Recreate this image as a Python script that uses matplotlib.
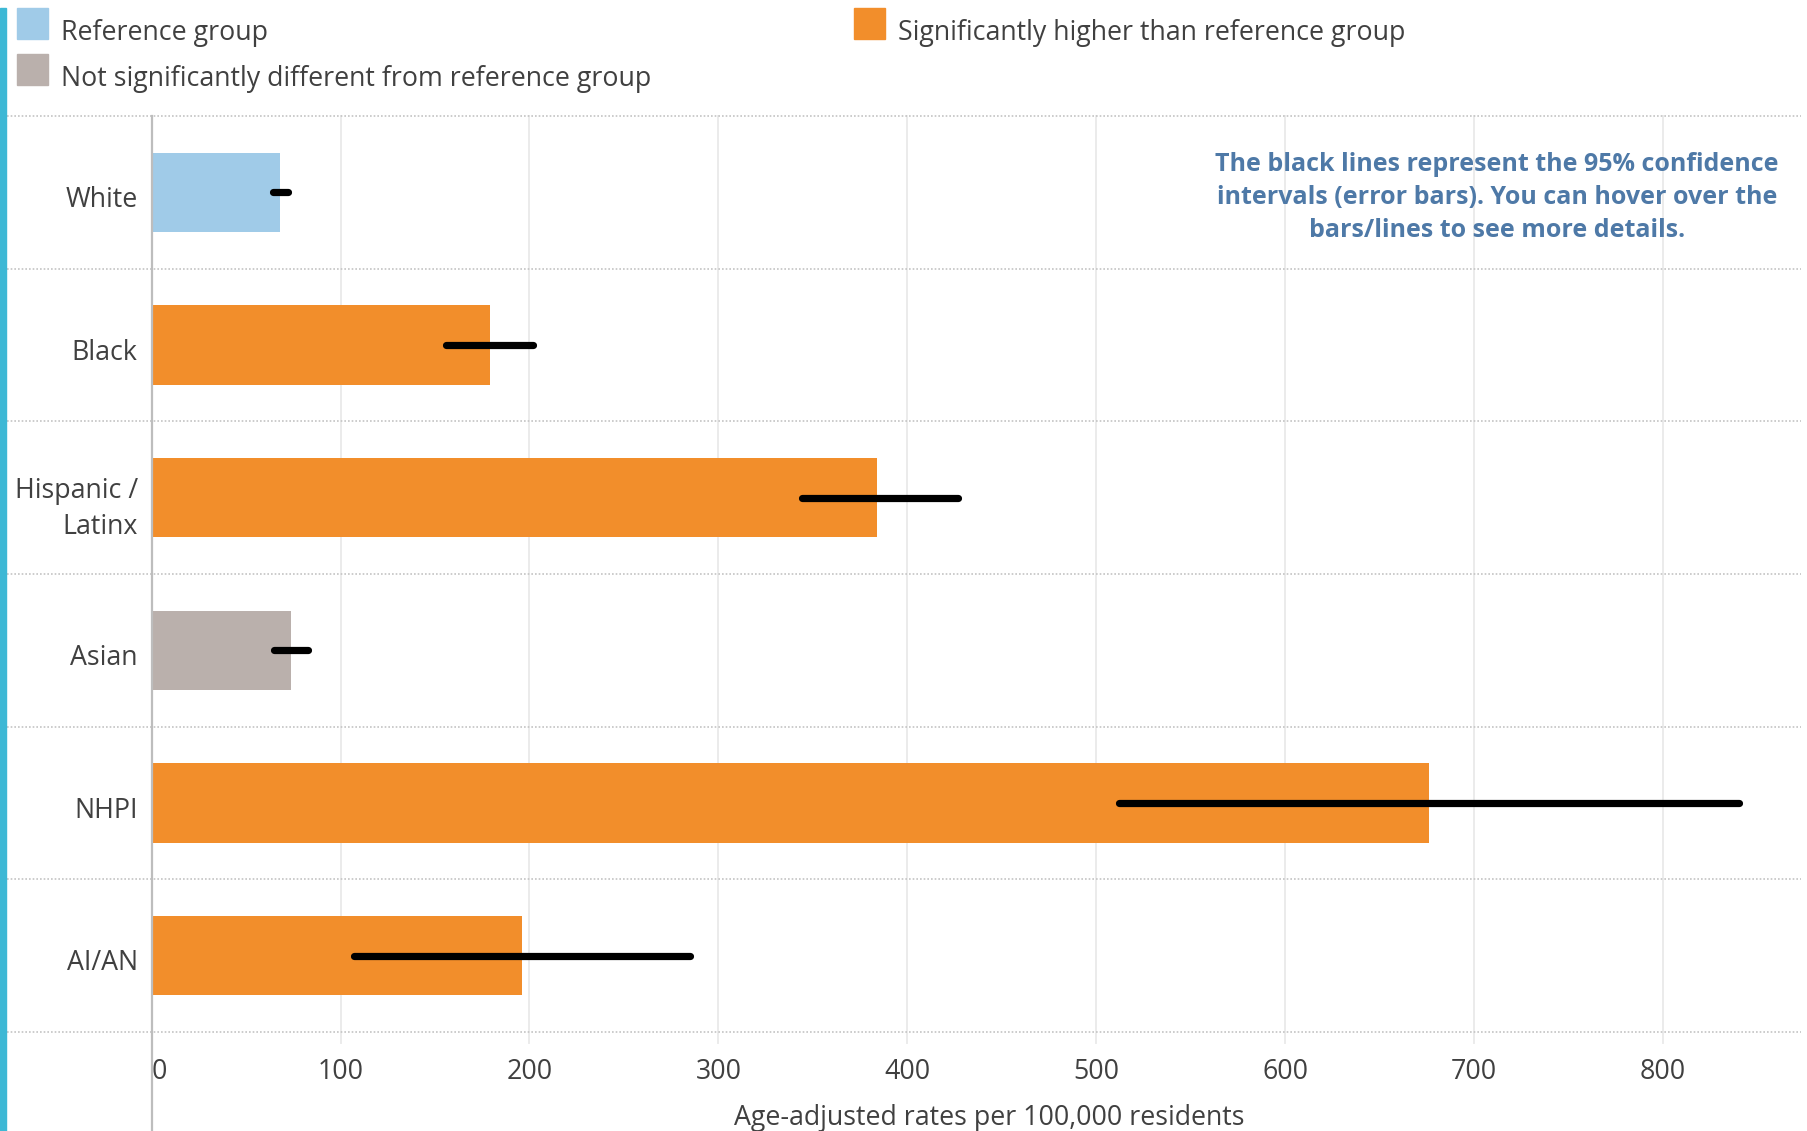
import matplotlib.pyplot as plt
import matplotlib.transforms as mtransforms
from matplotlib.patches import Rectangle

plt.rcParams['font.family'] = ['Open Sans', 'DejaVu Sans']

# Data
groups = ["White", "Black", "Hispanic /\nLatinx", "Asian", "NHPI", "AI/AN"]
rates = [68, 179, 384, 74, 676, 196]
ci_low = [64, 156, 344, 65, 512, 107]
ci_high = [72, 202, 427, 83, 840, 285]
status = ["ref", "higher", "higher", "ns", "higher", "higher"]

colors = {"ref": "#A0CBE8", "higher": "#F28E2B", "ns": "#BAB0AC"}
legend_labels = {"ref": "Reference group",
                 "higher": "Significantly higher than reference group",
                 "ns": "Not significantly different from reference group"}
xticks = [0, 100, 200, 300, 400, 500, 600, 700, 800]
text_col = "#404040"
fs = 19.3

W, H = 1808, 1131
fig = plt.figure(figsize=(W / 100, H / 100), dpi=100)


def fx(px):
    return px / W


def fy(py):
    return 1 - py / H


# axes area in pixels
left, right, top, bottom = 151.6, 1801, 116, 1032
ax = fig.add_axes([fx(left), fy(bottom), fx(right - left), (bottom - top) / H])

y = list(range(len(groups)))
ax.barh(y, rates, height=0.52, color=[colors[s] for s in status], zorder=2)
for i in y:
    ax.plot([ci_low[i], ci_high[i]], [i, i], color="black", lw=5.2,
            solid_capstyle="round", zorder=3)

ax.set_xlim(0, 873)
ax.set_ylim(len(groups) - 0.5, -0.5)

# dotted row separators (extend into label area)
ext = (left - 7) / (right - left)
for k in range(len(groups) + 1):
    ax.axhline(k - 0.5, xmin=-ext, xmax=1, color="#C4C4C4", lw=1.2,
               ls=(0, (1, 1.2)), clip_on=False, zorder=1)

# vertical gridlines
gext = (1043 - bottom) / (bottom - top)
for t in xticks[1:]:
    ax.axvline(t, ymin=-gext, ymax=1, color="#EBEBEB", lw=1.4, clip_on=False, zorder=0)
aext = (H - bottom) / (bottom - top)
ax.axvline(0, ymin=-aext, ymax=1, color="#BDBDBD", lw=1.6, clip_on=False, zorder=4)

for sp in ax.spines.values():
    sp.set_visible(False)

ax.set_yticks(y)
ax.set_yticklabels(groups, fontsize=fs, color=text_col, multialignment="right",
                   linespacing=1.35)
ax.tick_params(axis="y", length=0, pad=10)
shift = mtransforms.ScaledTranslation(0, -4 / 100, fig.dpi_scale_trans)
for lab in ax.get_yticklabels():
    lab.set_transform(lab.get_transform() + shift)

ax.set_xticks(xticks)
ax.set_xticklabels([str(t) for t in xticks], fontsize=fs, color=text_col)
ax.tick_params(axis="x", length=0, pad=19)
ax.get_xticklabels()[0].set_horizontalalignment("left")
ax.set_xlabel("Age-adjusted rates per 100,000 residents", fontsize=fs,
              color=text_col, labelpad=13)
ax.xaxis.label.set_x(0.508)

# note
fig.text(fx(1497), fy(197.5),
         "The black lines represent the 95% confidence\n"
         "intervals (error bars). You can hover over the\n"
         "bars/lines to see more details.",
         ha="center", va="center", fontsize=18, fontweight="bold",
         color="#4E79A7", linespacing=1.4)

# legend
legend_pos = {"ref": (17, 8), "ns": (17, 54), "higher": (854, 8)}
for key, (lx, ly) in legend_pos.items():
    fig.patches.append(Rectangle((fx(lx), fy(ly + 31)), fx(31), 31 / H,
                                 transform=fig.transFigure, color=colors[key]))
    fig.text(fx(lx + 44), fy(ly + 25), legend_labels[key], ha="left", va="center",
             fontsize=fs, color=text_col)

# left accent bar
fig.patches.append(Rectangle((0, 0), fx(6), fy(8), transform=fig.transFigure,
                             color="#3DB8D5"))

fig.savefig("out.png", dpi=100)
